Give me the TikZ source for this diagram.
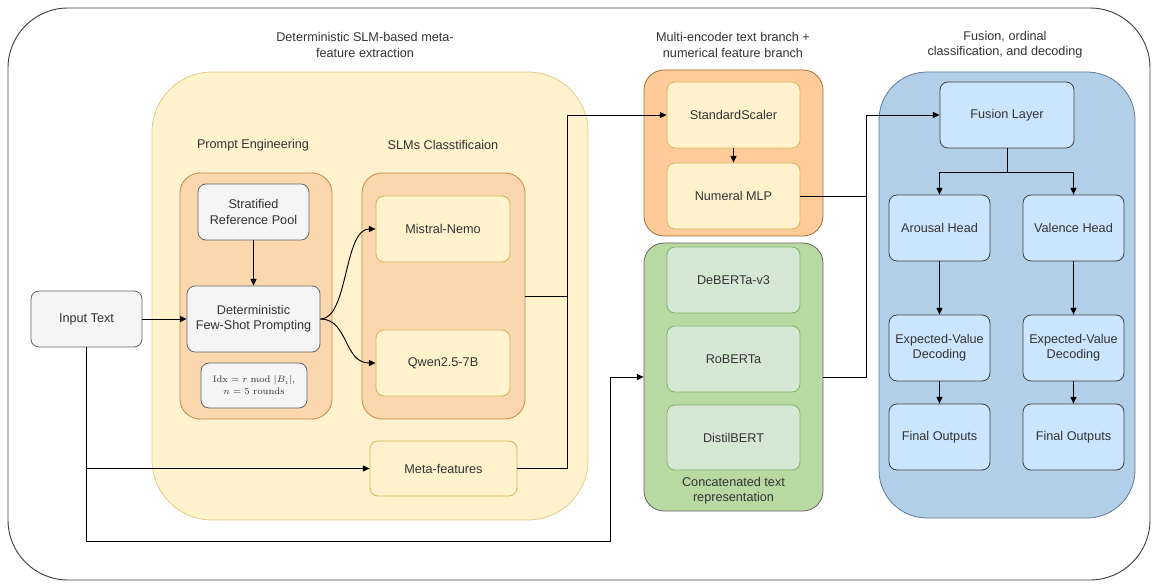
\documentclass[tikz,border=0pt]{standalone}
\usepackage{fontspec}
\setsansfont{Liberation Sans}
\usepackage{tikz}
\usetikzlibrary{arrows.meta,positioning,calc}
\definecolor{ylwfill}{HTML}{FFF2CC}
\definecolor{ylwline}{HTML}{D6B656}
\definecolor{orgfill}{HTML}{FAD7AC}
\definecolor{orgline}{HTML}{C98A45}
\definecolor{numfill}{HTML}{FFCC99}
\definecolor{grnfill}{HTML}{B9D9A2}
\definecolor{grnbox}{HTML}{D5E8D4}
\definecolor{grnline}{HTML}{82B366}
\definecolor{bluefill}{HTML}{B1CFE9}
\definecolor{blueline}{HTML}{5F7A95}
\definecolor{bluebox}{HTML}{CCE5FF}
\definecolor{greybox}{HTML}{F5F5F5}
\definecolor{txt}{HTML}{333333}
\tikzset{
  lbl/.style      ={font=\sffamily\fontsize{9.5}{11.5}\selectfont,text=txt,align=center},
  panel/.style    ={draw,inner sep=0pt,line width=0.6pt},
  box/.style      ={lbl,draw,rounded corners=6pt,line width=0.6pt,inner sep=1pt,
                    minimum width=99.75pt,minimum height=49.5pt},
  greybox/.style  ={box,fill=greybox,draw=black!60},
  ylwbox/.style   ={box,fill=ylwfill,draw=ylwline},
  grnbox/.style   ={box,fill=grnbox,draw=grnline},
  bluebox/.style  ={box,fill=bluebox,draw=black!75,minimum width=75.75pt},
  arrow/.style    ={-{Triangle[length=5pt,width=4.5pt]},line width=0.7pt},
  link/.style     ={line width=0.7pt}
}

\begin{document}
\begin{tikzpicture}[x=0.75pt,y=-0.75pt]
    \useasboundingbox (0,0) rectangle (1158,588);
    \draw[black!75,line width=0.7pt,rounded corners=45pt] (8,8) rectangle (1150,580);

    % panels
    \node[panel,fill=ylwfill,draw=ylwline!70,rounded corners=45pt,minimum width=327pt,minimum height=336pt] (metapanel) at (370,296) {};
    \node[panel,fill=orgfill,draw=orgline,rounded corners=15pt,minimum width=114pt,minimum height=184.5pt] (promptpanel) at (256,296) {};
    \node[panel,fill=orgfill,draw=orgline,rounded corners=15pt,minimum width=122.25pt,minimum height=184.5pt] (slmpanel) at (443.5,296) {};
    \node[panel,fill=numfill,draw=orgline!80!black,rounded corners=15pt,minimum width=134.25pt,minimum height=124.5pt] (numpanel) at (733.5,153) {};
    \node[panel,fill=grnfill,draw=black!60,rounded corners=15pt,minimum width=134.25pt,minimum height=201pt] (textpanel) at (733.5,377) {};
    \node[panel,fill=bluefill,draw=blueline,rounded corners=36pt,minimum width=192pt,minimum height=334.5pt] (fusepanel) at (1007,295) {};

    % titles
    \node[lbl] (metatitle) at (365,45) {Deterministic SLM-based meta-\\feature extraction};
    \node[lbl] (prompttitle) at (253,145) {Prompt Engineering};
    \node[lbl] (slmtitle) at (443,145) {SLMs Classtificaion};
    \node[lbl] (numtitle) at (733,45) {Multi-encoder text branch +\\numerical feature branch};
    \node[lbl] (fusetitle) at (1005,45) {Fusion, ordinal\\classification, and decoding};
    \node[lbl] (concat) at (733.5,491) {Concatenated text\\representation};

    % meta-feature extraction
    \node[greybox,minimum width=83.25pt,minimum height=42pt] (inp) at (86.5,319) {Input Text};
    \node[greybox,minimum width=83.25pt,minimum height=42pt] (pool) at (253.5,212) {Stratified\\Reference Pool};
    \node[greybox] (fsp) at (253.5,319) {Deterministic\\Few-Shot Prompting};
    \node[greybox,minimum width=79.5pt,minimum height=33.75pt,font=\fontsize{7}{9}\selectfont] (formula) at (254,385.5)
      {$\mathrm{Idx}=r \bmod |B_i|$,\\$n=5\ \mathrm{rounds}$};
    \node[ylwbox,minimum width=100.5pt] (mistral) at (443,229) {Mistral-Nemo};
    \node[ylwbox,minimum width=100.5pt] (qwen) at (443,363) {Qwen2.5-7B};
    \node[ylwbox,minimum width=110.25pt,minimum height=41.25pt] (meta) at (443.5,468.5) {Meta-features};

    % encoder branches
    \node[ylwbox] (scaler) at (733.5,115) {StandardScaler};
    \node[ylwbox] (mlp) at (733.5,196) {Numeral MLP};
    \node[grnbox] (deberta) at (733.5,280) {DeBERTa-v3};
    \node[grnbox] (roberta) at (733.5,359) {RoBERTa};
    \node[grnbox,minimum height=48.75pt] (distil) at (733.5,437.5) {DistilBERT};

    % fusion and decoding
    \node[bluebox,minimum width=100.5pt] (fusion) at (1007,115) {Fusion Layer};
    \node[bluebox] (arousal) at (939.5,228) {Arousal Head};
    \node[bluebox] (valence) at (1073.5,228) {Valence Head};
    \node[bluebox] (evda) at (939.5,348) {Expected-Value\\Decoding};
    \node[bluebox] (evdv) at (1073.5,348) {Expected-Value\\Decoding};
    \node[bluebox] (outa) at (939.5,437) {Final Outputs};
    \node[bluebox] (outv) at (1073.5,437) {Final Outputs};

    \coordinate (loop)  at (610,541);
    \coordinate (join)  at (567,296);
    \coordinate (merge) at (866,377);
    \coordinate (split) at (1007,172);

    \draw[arrow] (inp) -- (fsp);
    \draw[arrow] (inp.south) |- (loop) |- (textpanel.west);
    \draw[arrow] (inp.south |- meta.west) -- (meta.west);
    \draw[arrow] (pool) -- (fsp);
    \draw[arrow] (fsp.east) .. controls +(28,0) and +(-32,0) .. (mistral.west);
    \draw[arrow] (fsp.east) .. controls +(28,0) and +(-32,0) .. (qwen.west);
    \draw[link] (meta.east) -| (join);
    \draw[arrow] (slmpanel.east) -- (join) |- (scaler.west);
    \draw[arrow] (scaler) -- (mlp);
    \draw[link] (mlp.east) -- (mlp.east -| merge);
    \draw[arrow] (textpanel.east) -- (merge) |- (fusion.west);
    \draw[link] (fusion.south) -- (split);
    \draw[arrow] (split) -| (arousal.north);
    \draw[arrow] (split) -| (valence.north);
    \draw[arrow] (arousal) -- (evda);
    \draw[arrow] (evda) -- (outa);
    \draw[arrow] (valence) -- (evdv);
    \draw[arrow] (evdv) -- (outv);
\end{tikzpicture}
\end{document}
